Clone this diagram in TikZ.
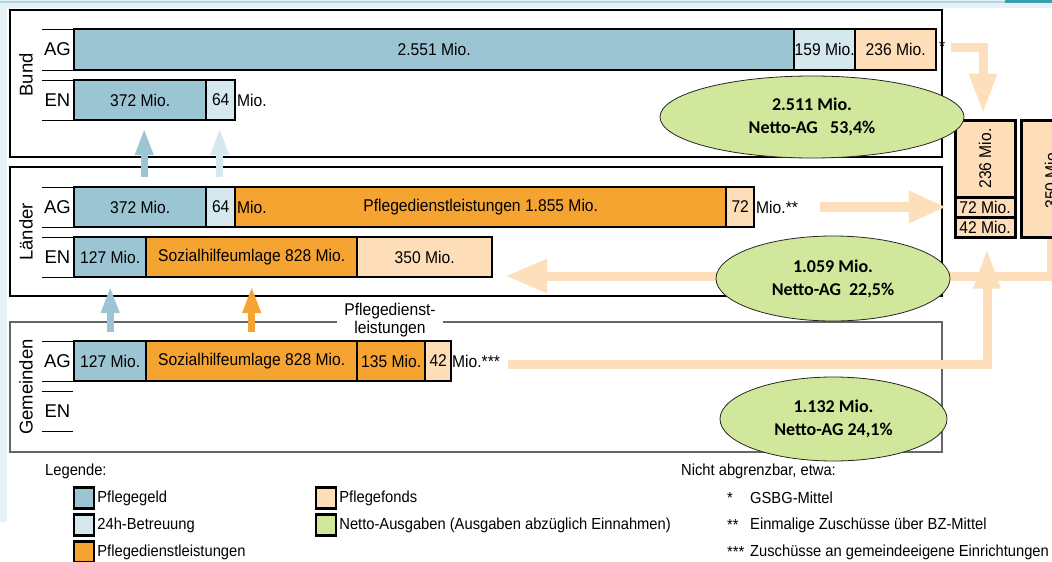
\documentclass[tikz,border=0pt]{standalone}
\usepackage{fontspec}
\setmainfont{Liberation Sans}[FakeStretch=0.92]
\newfontfamily\labelfont{Liberation Sans}
\newfontfamily\netfont{Carlito}
\usetikzlibrary{arrows.meta,calc,positioning,shapes.geometric}

\definecolor{pgeld}{HTML}{9BC5D3}
\definecolor{betreu}{HTML}{D5E8EE}
\definecolor{pdienst}{HTML}{F5A431}
\definecolor{pfonds}{HTML}{FDDEB8}
\definecolor{netto}{HTML}{D1E89C}
\definecolor{flowcol}{HTML}{FDDFBB}
\definecolor{slide}{HTML}{E6F1F5}
\definecolor{slideline}{HTML}{AAD7E0}
\definecolor{slidedark}{HTML}{3AA0AE}

\tikzset{
  seg/.style={draw=black, line width=2.4pt, minimum height=40pt, inner sep=0pt,
    anchor=west, font=\fontsize{17}{19}\selectfont},
  note/.style={anchor=west, inner sep=0pt, font=\fontsize{17}{19}\selectfont},
  rowlbl/.style={inner sep=0pt, font=\labelfont\fontsize{18.5}{20}\selectfont},
  rowline/.style={draw=black, line width=0.9pt},
  levelbox/.style={draw=black, line width=1.2pt},
  colbox/.style={draw=black, line width=3pt, fill=pfonds, inner sep=0pt,
    minimum width=60pt, font=\fontsize{17}{19}\selectfont},
  uparrow/.style={draw=#1, line width=7pt, -{Triangle[length=27pt,width=17pt]}},
  flow/.style={draw=flowcol, line width=9pt, line join=miter},
  nettobox/.style={ellipse, draw=black!85, line width=0.8pt, fill=netto, inner sep=0pt,
    align=center, font=\netfont\bfseries\fontsize{18}{23}\selectfont},
  legbox/.style={draw=black, line width=2.4pt, minimum width=20pt, minimum height=21pt, inner sep=0pt},
  legtext/.style={inner sep=0pt, anchor=west, font=\fontsize{16}{18}\selectfont},
}

\begin{document}
\begin{tikzpicture}[x=1pt, y=-1pt]
\useasboundingbox (0,0) rectangle (1052,562);
\clip (0,0) rectangle (1052,562);

% slide background edges
\fill[slide] (0,0) rectangle (1052,8);
\fill[slide] (0,0) rectangle (7,522);
\draw[slideline, line width=2pt] (0,1.5) -- (1052,1.5);
\fill[slidedark] (1005,0) rectangle (1052,3);

% level frames
\draw[levelbox] (10,10) rectangle (942,157);
\draw[levelbox] (10,167) rectangle (942,296);
\draw[draw=black!60, line width=1.6pt] (10,322) rectangle (942,452);

% level titles
\node[rowlbl, rotate=90] (tbund) at (26,75) {Bund};
\node[rowlbl, rotate=90] (tlaender) at (26,232) {Länder};
\node[rowlbl, rotate=90] (tgem) at (26,387) {Gemeinden};

% row labels with their rules
\foreach \yt/\yb/\txt [count=\i] in {29/70/AG, 80/120/EN, 187/227/AG, 237/277/EN, 341/381/AG, 391/431/EN}{
  \draw[rowline] (42,\yt) -- (73,\yt);
  \draw[rowline] (42,\yb) -- (73,\yb);
  \node[rowlbl] (rl\i) at (57.5,{(\yt+\yb)/2}) {\txt};
}

% Bund
\node[seg, fill=pgeld,  minimum width=720pt, minimum height=41pt] (bag1) at (73,49.5) {2.551 Mio.};
\node[seg, fill=betreu, minimum width=61pt,  minimum height=41pt] (bag2) at (793,49.5) {159 Mio.};
\node[seg, fill=pfonds, minimum width=81pt,  minimum height=41pt] (bag3) at (854,49.5) {236 Mio.};
\node[note] (bstar) at (939,47) {*};
\node[seg, fill=pgeld,  minimum width=132pt] (ben1) at (73,100) {372 Mio.};
\node[seg, fill=betreu, minimum width=29pt]  (ben2) at (205,100) {64};
\node[note] (bmio) at (237,100) {Mio.};

% Länder
\node[seg, fill=pgeld,   minimum width=132pt] (lag1) at (73,207) {372 Mio.};
\node[seg, fill=betreu,  minimum width=29pt]  (lag2) at (205,207) {64};
\node[seg, fill=pdienst, minimum width=491pt] (lag3) at (234,207) {Pflegedienstleistungen 1.855 Mio.};
\node[note] (lmio) at (237,207) {Mio.};
\node[seg, fill=pfonds,  minimum width=28pt]  (lag4) at (725,207) {72};
\node[note] (lstar) at (756,207) {Mio.**};
\node[seg, fill=pgeld,   minimum width=72pt]  (len1) at (73,257) {127 Mio.};
\node[seg, fill=pdienst, minimum width=211pt] (len2) at (145,257) {Sozialhilfeumlage 828 Mio.};
\node[seg, fill=pfonds,  minimum width=135pt] (len3) at (356,257) {350 Mio.};

% Gemeinden
\node[seg, fill=pgeld,   minimum width=72pt]  (gag1) at (73,361) {127 Mio.};
\node[seg, fill=pdienst, minimum width=211pt] (gag2) at (145,361) {Sozialhilfeumlage 828 Mio.};
\node[seg, fill=pdienst, minimum width=68pt]  (gag3) at (356,361) {135 Mio.};
\node[seg, fill=pfonds,  minimum width=26pt]  (gag4) at (424,361) {42};
\node[note] (gstar) at (452,361) {Mio.***};
\node[fill=white, inner xsep=7pt, inner ysep=0pt, align=center,
      font=\fontsize{17}{18}\selectfont] (pdl) at (390,320) {Pflegedienst-\\leistungen};

% Pflegefonds column
\node[colbox, minimum height=77pt] (c236) at (985,158.5) {\rotatebox{90}{236 Mio.}};
\node[colbox, minimum height=20pt] (c72) at (985,207) {72 Mio.};
\node[colbox, minimum height=20pt] (c42) at (985,227) {42 Mio.};
\node[colbox, minimum height=117pt] (c350) at (1051,178.5) {\rotatebox{90}{350 Mio.}};

% transfers between levels
\draw[uparrow=pgeld,   shorten <=9pt, shorten >=7pt] ($(lag1.north)+(4,0)$) -- ($(ben1.south)+(4,0)$);
\draw[uparrow=betreu,  shorten <=9pt, shorten >=7pt] ($(lag2.north)+(-1,0)$) -- ($(ben2.south)+(-1,0)$);
\draw[uparrow=pgeld,   shorten <=8pt, shorten >=8pt] (gag1.north) -- (len1.south);
\draw[uparrow=pdienst, shorten <=8pt, shorten >=8pt] (gag2.north) -- (len2.south);

% flows into and out of the Pflegefonds
\draw[flow, -{Triangle[length=40pt,width=26pt]}] ($(bstar.east)+(6,0)$) -| ($(c236.north)+(-2,-5)$);
\draw[flow, line width=10pt, -{Triangle[length=38pt,width=30pt]}] ($(lstar.east)+(22,0)$) -- ($(c72.west)+(-7,0)$);
\draw[flow, -{Triangle[length=40pt,width=25pt]}] ($(gstar.east)+(8,3)$) -| ($(c42.south)+(2,10)$);
\draw[flow, -{Triangle[length=42pt,width=32pt]}] (c350.south) |- ($(len3.east)+(12,19)$);

% net expenditure per level
\node[nettobox, minimum width=304pt, minimum height=82pt] (n1) at (812,117) {2.511 Mio.\\Netto-AG\ \ \ 53,4\%};
\node[nettobox, minimum width=234pt, minimum height=85pt] (n2) at (833,278.5) {1.059 Mio.\\Netto-AG\ \ 22,5\%};
\node[nettobox, minimum width=227pt, minimum height=84pt] (n3) at (833.5,419) {1.132 Mio.\\Netto-AG 24,1\%};

% legend
\node[legtext] (leg) at (45,471) {Legende:};
\node[legbox, fill=pgeld]   (k1) at (84,498) {};
\node[legtext, right=2pt of k1] (k1t) {Pflegegeld};
\node[legbox, fill=betreu]  (k2) at (84,525) {};
\node[legtext, right=2pt of k2] (k2t) {24h-Betreuung};
\node[legbox, fill=pdienst] (k3) at (84,552) {};
\node[legtext, right=2pt of k3] (k3t) {Pflegedienstleistungen};
\node[legbox, fill=pfonds]  (k4) at (326,498) {};
\node[legtext, right=2pt of k4] (k4t) {Pflegefonds};
\node[legbox, fill=netto]   (k5) at (326,525) {};
\node[legtext, right=2pt of k5] (k5t) {Netto-Ausgaben (Ausgaben abzüglich Einnahmen)};

\node[legtext] (nab) at (681,471) {Nicht abgrenzbar, etwa:};
\node[legtext] (s1) at (727,498) {*};
\node[legtext] (s1t) at (750,498) {GSBG-Mittel};
\node[legtext] (s2) at (727,525) {**};
\node[legtext] (s2t) at (750,525) {Einmalige Zuschüsse über BZ-Mittel};
\node[legtext] (s3) at (727,552) {***};
\node[legtext] (s3t) at (750,552) {Zuschüsse an gemeindeeigene Einrichtungen};
\end{tikzpicture}
\end{document}
